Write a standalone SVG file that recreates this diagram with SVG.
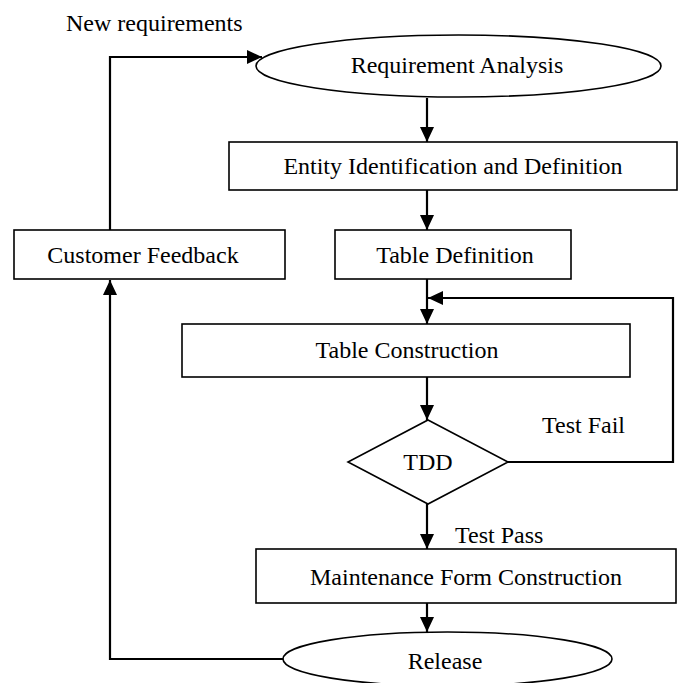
<svg xmlns="http://www.w3.org/2000/svg" width="678" height="683" viewBox="0 0 678 683">
<defs>
<marker id="ah" markerWidth="15" markerHeight="14" refX="15" refY="7" orient="auto" markerUnits="userSpaceOnUse">
<path d="M0,0 L15,7 L0,14 Z" fill="#000"/>
</marker>
<style>
.n{fill:#fff;stroke:#000;stroke-width:1.6}
.t{font-family:"Liberation Serif","Times New Roman",serif;font-size:24px;fill:#000}
.m{text-anchor:middle}
.c{fill:none;stroke:#000;stroke-width:2.2}
</style>
</defs>
<rect width="678" height="683" fill="#fff"/>
<g id="connectors">
<path class="c" d="M110,230 L110,57 L262,57" marker-end="url(#ah)"/>
<path class="c" d="M427,98 L427,142" marker-end="url(#ah)"/>
<path class="c" d="M427,190 L427,230" marker-end="url(#ah)"/>
<path class="c" d="M427,279 L427,324" marker-end="url(#ah)"/>
<path class="c" d="M508,462 L673,462 L673,298 L428,298" marker-end="url(#ah)"/>
<path class="c" d="M427,377 L427,420" marker-end="url(#ah)"/>
<path class="c" d="M427,504 L427,549" marker-end="url(#ah)"/>
<path class="c" d="M427,603 L427,632" marker-end="url(#ah)"/>
<path class="c" d="M283,659 L110,659 L110,280" marker-end="url(#ah)"/>
</g>
<g id="label-new-req"><text class="t" x="66" y="31">New requirements</text></g>
<g id="req-analysis">
<ellipse class="n" cx="458.5" cy="66" rx="202.5" ry="31"/>
<text class="t m" x="457" y="73">Requirement Analysis</text>
</g>
<g id="entity">
<rect class="n" x="229" y="142" width="448" height="48"/>
<text class="t m" x="453" y="174">Entity Identification and Definition</text>
</g>
<g id="customer-feedback">
<rect class="n" x="14" y="230" width="271" height="49"/>
<text class="t m" x="143" y="263">Customer Feedback</text>
</g>
<g id="table-def">
<rect class="n" x="335" y="230" width="236" height="49"/>
<text class="t m" x="455" y="263">Table Definition</text>
</g>
<g id="table-construction">
<rect class="n" x="182" y="324" width="448" height="53"/>
<text class="t m" x="407" y="358">Table Construction</text>
</g>
<g id="tdd">
<polygon class="n" points="428,420 508,462 428,504 348,462"/>
<text class="t m" x="428" y="470">TDD</text>
</g>
<g id="label-fail"><text class="t" x="542" y="433">Test Fail</text></g>
<g id="label-pass"><text class="t" x="455" y="543">Test Pass</text></g>
<g id="maintenance">
<rect class="n" x="256" y="549" width="420" height="54"/>
<text class="t m" x="466" y="585">Maintenance Form Construction</text>
</g>
<g id="release">
<ellipse class="n" cx="447.5" cy="659" rx="164.5" ry="27"/>
<text class="t m" x="445" y="669">Release</text>
</g>
</svg>
